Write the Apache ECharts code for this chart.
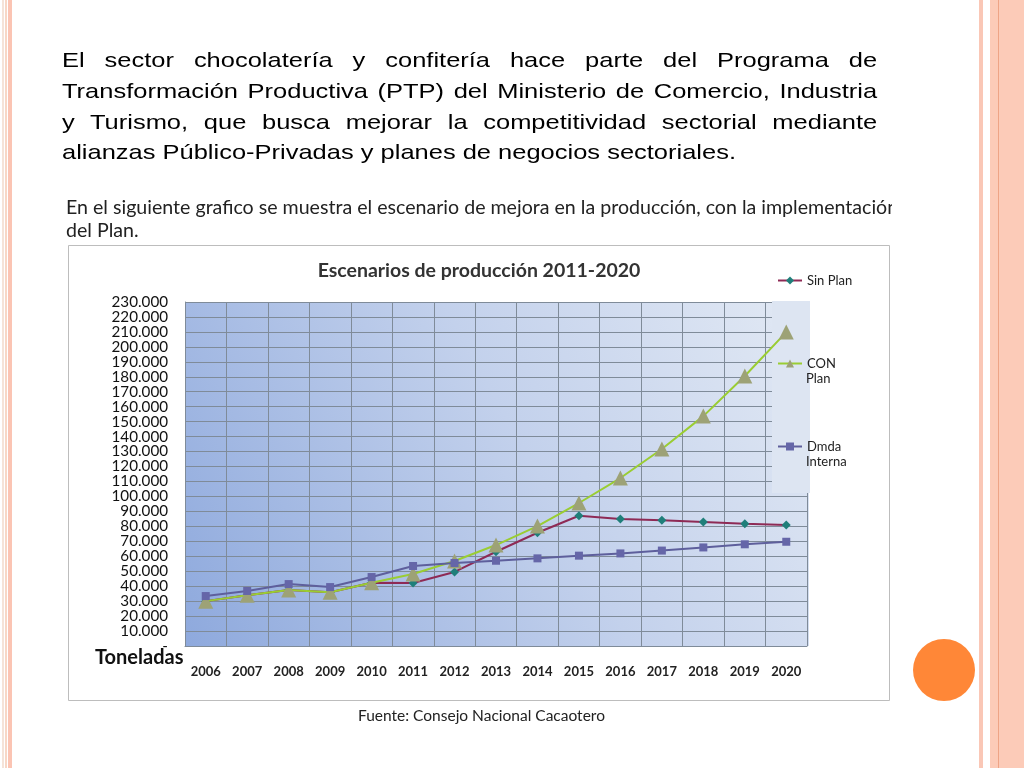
<!DOCTYPE html>
<html>
<head>
<meta charset="utf-8">
<script src="https://cdn.jsdelivr.net/npm/echarts@6/dist/echarts.min.js"></script>
<style>
  html, body { margin:0; padding:0; background:#fff; }
  #chart { position:absolute; left:0; top:0; width:1024px; height:768px; }
  #para { position:absolute; left:62px; top:45px; width:672px; font-family:"Liberation Sans", Arial, sans-serif; font-size:21px; line-height:30.8px; color:#000; z-index:2; transform:scaleX(1.213); transform-origin:0 0; }
  #para .j { text-align:justify; text-align-last:justify; }
  #para .l { text-align:left; white-space:nowrap; }
  #sub { position:absolute; left:66px; top:195px; width:826px; height:52px; overflow:hidden; font-family:Lato, "Open Sans", sans-serif; font-size:19.6px; line-height:23px; color:#222; white-space:nowrap; z-index:2; }
</style>
</head>
<body>
<div id="chart"></div>
<div id="para">
  <div class="j">El sector chocolatería y confitería hace parte del Programa de</div>
  <div class="j">Transformación Productiva (PTP) del Ministerio de Comercio, Industria</div>
  <div class="j">y Turismo, que busca mejorar la competitividad sectorial mediante</div>
  <div class="l">alianzas Público-Privadas y planes de negocios sectoriales.</div>
</div>
<div id="sub">En el siguiente grafico se muestra el escenario de mejora en la producción, con la implementación<br>del Plan.</div>
<script>
const years = ['2006','2007','2008','2009','2010','2011','2012','2013','2014','2015','2016','2017','2018','2019','2020'];
const sinPlan = [30000, 34000, 37500, 36000, 42300, 42100, 49500, 63000, 75700, 87100, 84900, 84000, 82900, 81800, 80900];
const conPlan = [30000, 34000, 37500, 36000, 42300, 48100, 56800, 67500, 80200, 95600, 112300, 131700, 153700, 180500, 209900];
const dmdaInterna = [33400, 36800, 41400, 39400, 46100, 53500, 55500, 57000, 58600, 60400, 61900, 63800, 65900, 68000, 69700];
const seriesNames = ['Sin Plan', 'CON Plan', 'Dmda Interna'];
const chartTitle = 'Escenarios de producción 2011-2020';
const yUnit = 'Toneladas';
const source = 'Fuente: Consejo Nacional Cacaotero';

const chart = echarts.init(document.getElementById('chart'));
const FONT = 'Lato';
const gridL = 185, gridT = 302, gridW = 622, gridH = 344;
const legX = 772;
const legendTops = [269, 352, 435];
const firstWord = n => n.split(' ')[0];
const restWords = n => n.split(' ').slice(1).join(' ');

chart.setOption({
  animation: false,
  backgroundColor: '#ffffff',
  title: {
    text: chartTitle, left: 474, top: 256, textAlign: 'center',
    textStyle: { fontFamily: FONT, fontSize: 19.5, fontWeight: 'bold', color: '#333' }
  },
  grid: { left: gridL, top: gridT, width: gridW, height: gridH },
  legend: seriesNames.map((n, i) => ({
    data: [n], orient: 'vertical', left: legX, top: legendTops[i], itemWidth: 24, itemHeight: 10,
    formatter: i === 0 ? null : firstWord,
    textStyle: { fontFamily: FONT, fontSize: 13, color: '#222' }
  })),
  xAxis: {
    type: 'category', data: years, boundaryGap: true,
    axisLine: { show: true, lineStyle: { color: '#7f8b99' } },
    axisTick: { show: false },
    axisLabel: { fontFamily: FONT, fontSize: 13, fontWeight: 'bold', color: '#222', margin: 19 },
    splitLine: { show: true, lineStyle: { color: '#7f8b99', width: 1 } }
  },
  yAxis: {
    type: 'value', min: 0, max: 230000, interval: 10000,
    axisLine: { show: true, lineStyle: { color: '#7f8b99' } },
    axisTick: { show: false },
    axisLabel: { fontFamily: FONT, fontSize: 15.2, color: '#111', margin: 17,
      showMinLabel: true, showMaxLabel: true, hideOverlap: false,
      formatter: v => v === 0 ? '-' : (v / 1000).toFixed(0) + '.000' },
    splitLine: { show: true, lineStyle: { color: '#7f8b99', width: 1 } }
  },
  graphic: [
    // slide decorations
    { type: 'rect', shape: { x: 2, y: 0, width: 2, height: 768 }, style: { fill: '#f5e3d8' }, z: -10 },
    { type: 'rect', shape: { x: 5, y: 0, width: 2, height: 768 }, style: { fill: '#f7d7c6' }, z: -10 },
    { type: 'rect', shape: { x: 8, y: 0, width: 4, height: 768 }, style: { fill: '#fbc4b3' }, z: -10 },
    { type: 'rect', shape: { x: 979, y: 0, width: 4, height: 768 }, style: { fill: '#fac7b6' }, z: -10 },
    { type: 'rect', shape: { x: 990, y: 0, width: 34, height: 768 }, style: { fill: '#fccbb8' }, z: -10 },
    { type: 'rect', shape: { x: 998, y: 0, width: 1, height: 768 }, style: { fill: '#eea486' }, z: -10 },
    { type: 'circle', shape: { cx: 944, cy: 670, r: 31 }, style: { fill: '#ff8737' }, z: -10 },
    // chart box
    { type: 'rect', shape: { x: 68.5, y: 245.5, width: 821, height: 455 }, style: { fill: '#ffffff', stroke: '#bdbdbd', lineWidth: 1 }, z: -9 },
    // plot background gradient
    { type: 'rect', shape: { x: gridL, y: gridT, width: gridW + 2, height: gridH },
      style: { fill: new echarts.graphic.LinearGradient(0, 1, 1, 0, [
        { offset: 0, color: '#8ea9dd' }, { offset: 0.55, color: '#c3d1ec' }, { offset: 1, color: '#e2e9f4' }]) }, z: -8 },
    // legend panel overlay in the plot
    { type: 'rect', shape: { x: 772, y: gridT - 1, width: 38, height: 192 }, style: { fill: '#dde5f2' }, z: 1 },
    // second lines of the two-line legend labels
    { type: 'text', left: legX + 34, top: legendTops[1] + 20, z: 10,
      style: { text: restWords(seriesNames[1]), fontFamily: FONT, fontSize: 13, fill: '#222' } },
    { type: 'text', left: legX + 34, top: legendTops[2] + 20, z: 10,
      style: { text: restWords(seriesNames[2]), fontFamily: FONT, fontSize: 13, fill: '#222' } },
    // y unit
    { type: 'text', left: 95, top: 648, style: { text: yUnit, fontFamily: FONT, fontSize: 20, fontWeight: 'bold', fill: '#111' } },
    // source
    { type: 'text', left: 358, top: 708, style: { text: source, fontFamily: FONT, fontSize: 15.5, fill: '#222' } }
  ],
  series: [
    { name: seriesNames[0], type: 'line', data: sinPlan, z: 2,
      lineStyle: { color: '#8e2a55', width: 2 },
      itemStyle: { color: '#1f7f7a' }, symbol: 'diamond', symbolSize: 9 },
    { name: seriesNames[1], type: 'line', data: conPlan, z: 3,
      lineStyle: { color: '#9acd32', width: 2 },
      itemStyle: { color: '#9da276' }, symbol: 'triangle', symbolSize: 15 },
    { name: seriesNames[2], type: 'line', data: dmdaInterna, z: 4,
      lineStyle: { color: '#5e5f9c', width: 2 },
      itemStyle: { color: '#6566a8' }, symbol: 'rect', symbolSize: 8 }
  ]
});
</script>
</body>
</html>
